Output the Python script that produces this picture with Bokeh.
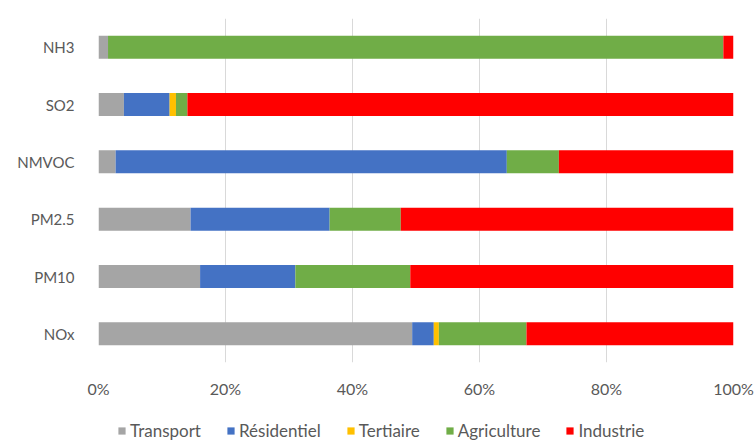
from bokeh.plotting import figure
from bokeh.layouts import column
from bokeh.models import FactorRange, Range1d, FixedTicker, Legend, LegendItem
from bokeh.embed import file_html
from bokeh.resources import INLINE

# Share of emissions by sector (%), one value per pollutant
pollutants = ["NOx", "PM10", "PM2.5", "NMVOC", "SO2", "NH3"]
transport = [49.4, 16.0, 14.5, 2.7, 4.0, 1.5]
residentiel = [3.4, 15.0, 21.9, 61.6, 7.2, 0.0]
tertiaire = [0.8, 0.0, 0.0, 0.0, 1.0, 0.0]
agriculture = [13.8, 18.1, 11.2, 8.2, 1.8, 96.9]
industrie = [32.6, 50.9, 52.4, 27.5, 86.0, 1.6]

sectors = ["Transport", "Résidentiel", "Tertiaire", "Agriculture", "Industrie"]
colors = ["#A5A5A5", "#4472C4", "#FFC000", "#70AD47", "#FF0000"]

x_ticks = [0, 20, 40, 60, 80, 100]
x_tick_labels = ["0%", "20%", "40%", "60%", "80%", "100%"]

FONT = "Lato"
TEXT_COLOR = "#595959"

data = {
    "pollutant": pollutants,
    "Transport": transport,
    "Résidentiel": residentiel,
    "Tertiaire": tertiaire,
    "Agriculture": agriculture,
    "Industrie": industrie,
}

# --- main chart ---------------------------------------------------------
p = figure(
    width=756, height=400,
    y_range=FactorRange(factors=pollutants),
    x_range=Range1d(0, 100),
    output_backend="svg", toolbar_location=None,
    min_border_left=98, min_border_right=23,
    min_border_top=18, min_border_bottom=38,
)

p.hbar_stack(sectors, y="pollutant", height=0.4, color=colors,
             line_color=None, source=data)

p.outline_line_color = None
p.background_fill_color = "white"
p.border_fill_color = "white"

p.xgrid.ticker = FixedTicker(ticks=x_ticks)
p.xgrid.grid_line_color = "#D9D9D9"
p.ygrid.grid_line_color = None

p.xaxis.ticker = FixedTicker(ticks=x_ticks)
p.xaxis.major_label_overrides = dict(zip(x_ticks, x_tick_labels))
p.xaxis.axis_line_color = None
p.xaxis.major_tick_line_color = None
p.xaxis.minor_tick_line_color = None
p.xaxis.major_label_standoff = 10
p.xaxis.major_label_text_font = FONT
p.xaxis.major_label_text_font_size = "16px"
p.xaxis.major_label_text_color = TEXT_COLOR

p.yaxis.axis_line_color = None
p.yaxis.major_tick_line_color = None
p.yaxis.minor_tick_line_color = None
p.yaxis.major_label_standoff = 18
p.yaxis.major_label_text_font = FONT
p.yaxis.major_label_text_font_size = "15px"
p.yaxis.major_label_text_color = TEXT_COLOR

# --- legend strip underneath (its frame lines up with the chart's) --------
lg = figure(
    width=756, height=41,
    y_range=FactorRange(factors=pollutants),
    x_range=Range1d(0, 100),
    x_axis_location=None, y_axis_location=None,
    output_backend="svg", toolbar_location=None,
    min_border_left=0, min_border_right=0,
    min_border_top=0, min_border_bottom=0,
)
lg.outline_line_color = None
lg.grid.grid_line_color = None
lg.background_fill_color = "white"
lg.border_fill_color = "white"

swatches = lg.hbar_stack(sectors, y="pollutant", height=0.4, color=colors,
                         line_color=None, source=data, visible=False)

legend = Legend(
    items=[LegendItem(label=s, renderers=[r]) for s, r in zip(sectors, swatches)],
    orientation="horizontal",
    location=(19, 0),
    border_line_color=None,
    background_fill_alpha=0,
    inactive_fill_alpha=0,
    label_text_font=FONT,
    label_text_font_size="17px",
    label_text_color=TEXT_COLOR,
    label_height=18,
    glyph_width=9, glyph_height=9,
    label_standoff=4,
    spacing=25,
    padding=0, margin=0,
)
lg.add_layout(legend, "center")

layout = column(p, lg, spacing=0)
open("out.html", "w").write(file_html(layout, INLINE))
